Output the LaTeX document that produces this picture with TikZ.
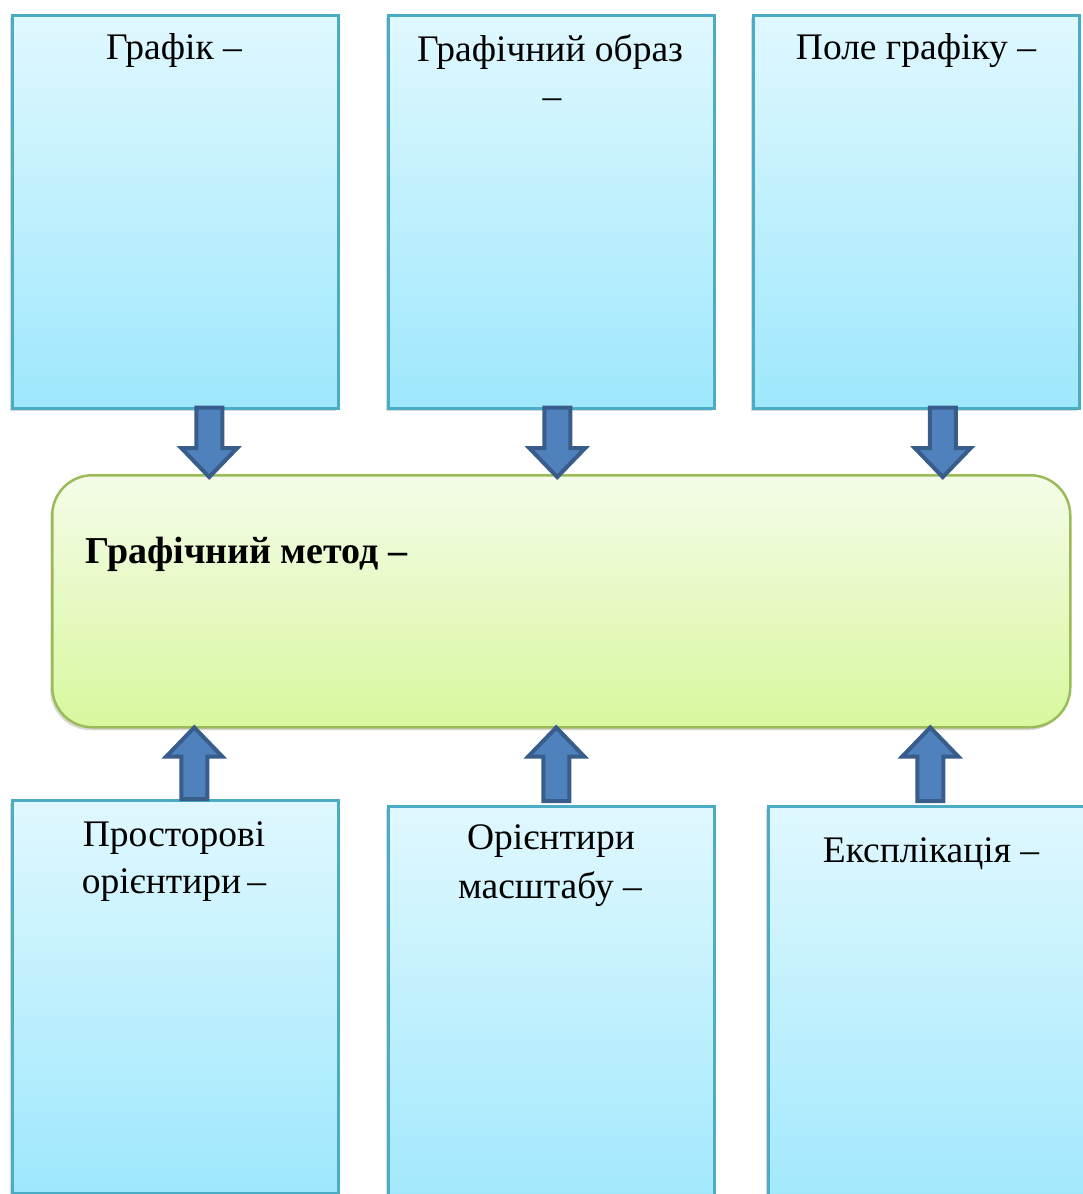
\documentclass[tikz,border=0pt]{standalone}
\usepackage{fontspec}
\setmainfont{Liberation Serif}
\usetikzlibrary{calc,shadows}

\definecolor{boxtop}{HTML}{E0F8FF}
\definecolor{boxbot}{HTML}{9EE8FC}
\definecolor{boxline}{HTML}{4BACC6}
\definecolor{coretop}{HTML}{F4FCE8}
\definecolor{corebot}{HTML}{D8F89E}
\definecolor{coreline}{HTML}{9BBB59}
\definecolor{arrfill}{HTML}{4F81BD}
\definecolor{arrline}{HTML}{385D8A}

\tikzset{
  infobox/.style={draw=boxline, line width=2.5pt, top color=boxtop, bottom color=boxbot,
    minimum width=326pt, inner sep=0pt,
    general shadow={fill=black, opacity=0.15, shadow xshift=-2pt, shadow yshift=-3pt}},
  corebox/.style={draw=coreline, line width=2.5pt, top color=coretop, bottom color=corebot,
    rounded corners=40pt, minimum width=1018pt, minimum height=252pt, inner sep=0pt,
    general shadow={fill=black, opacity=0.15, shadow xshift=-2pt, shadow yshift=-3pt}},
  label/.style={anchor=base, inner sep=0pt, font=\fontsize{37.5}{47}\selectfont},
  blockarrow/.style={fill=arrfill, draw=arrline, line width=4pt, line join=miter},
}

% block arrow from the first point to the tip at the second point
\newcommand{\blockarrow}[2]{%
  \path[blockarrow] let \p1=(#1), \p2=(#2), \p3=($(#2)!29pt!(#1)$) in
    (\x1-13pt,\y1) -- (\x1+13pt,\y1) -- (\x1+13pt,\y3) -- (\x1+28pt,\y3)
    -- (\x1,\y2) -- (\x1-28pt,\y3) -- (\x1-13pt,\y3) -- cycle;}

\begin{document}
\begin{tikzpicture}[x=1pt, y=-1pt]
\clip (0,0) rectangle (1083,1194);
\fill[white] (0,0) rectangle (1083,1194);

% upper row
\node[infobox, minimum height=393pt, anchor=north west] (g1) at (11,14) {};
\node[infobox, minimum height=393pt, anchor=north west] (g2) at (387,14) {};
\node[infobox, minimum height=393pt, anchor=north west] (g3) at (752,14) {};

% lower row
\node[infobox, minimum height=393pt, anchor=north west] (g4) at (11,799) {};
\node[infobox, minimum height=420pt, anchor=north west] (g5) at (387,805) {};
\node[infobox, minimum height=420pt, anchor=north west] (g6) at (767,805) {};

% central block
\node[corebox, anchor=north west] (core) at (51,474) {};

% texts
\node[label] (t1) at (174,59) {Графік –};
\node[label] (t2a) at (550,61) {Графічний образ};
\node[label] (t2b) at (552,108) {–};
\node[label] (t3) at (916,59) {Поле графіку –};
\node[label, anchor=base west, font=\fontsize{38}{47}\selectfont\bfseries] (tc) at (85,563) {Графічний метод –};
\node[label] (t4a) at (174,846) {Просторові};
\node[label] (t4b) at (174,893) {орієнтири\,–};
\node[label] (t5a) at (551,849) {Орієнтири};
\node[label] (t5b) at (550,898) {масштабу –};
\node[label] (t6) at (931,862) {Експлікація –};

% arrows into the central block
\coordinate (d1) at ([xshift=34pt,yshift=2pt]g1.south);
\coordinate (d2) at ([xshift=6pt,yshift=2pt]g2.south);
\coordinate (d3) at ([xshift=26.5pt,yshift=2pt]g3.south);
\blockarrow{d1}{$(d1 |- core.north)+(0,3)$}
\blockarrow{d2}{$(d2 |- core.north)+(0,3)$}
\blockarrow{d3}{$(d3 |- core.north)+(0,3)$}

\coordinate (u1) at ([xshift=19pt]g4.north);
\coordinate (u2) at ([xshift=5pt,yshift=4pt]g5.north);
\coordinate (u3) at ([xshift=-1pt,yshift=4pt]g6.north);
\blockarrow{u1}{$(u1 |- core.south)+(0,-1)$}
\blockarrow{u2}{$(u2 |- core.south)+(0,-1)$}
\blockarrow{u3}{$(u3 |- core.south)+(0,-1)$}
\end{tikzpicture}
\end{document}
